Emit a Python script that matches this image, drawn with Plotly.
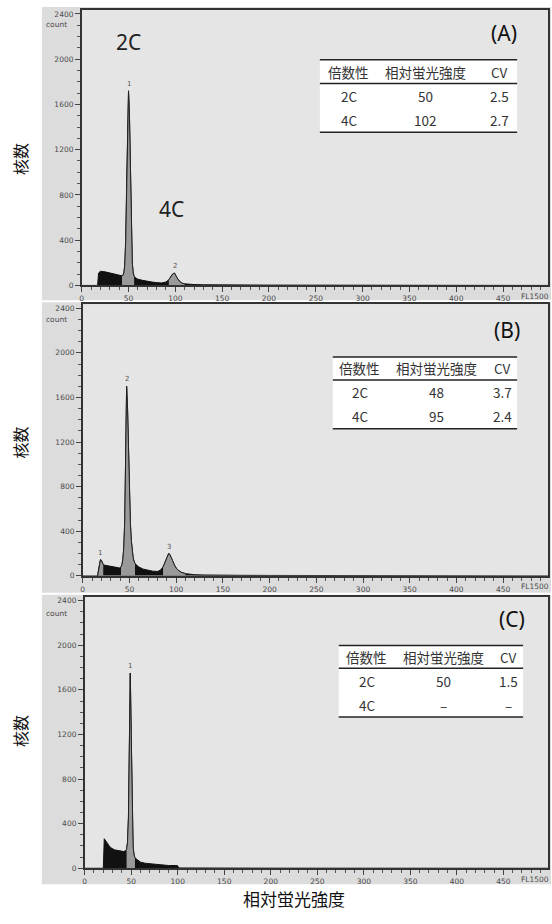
import plotly.graph_objects as go

W, H = 552, 924

# ---------------- data ----------------
A_x = [0, 17, 18, 20, 25, 30, 35, 40, 43, 44, 45, 46, 47, 48, 49, 50, 51, 52, 53, 54, 55, 56, 58, 60, 65, 70, 75, 80, 85, 90, 93, 95, 97, 99, 100, 101, 103, 105, 107, 110, 115, 120, 130, 140, 150, 200, 300, 400, 498]
A_y = [0, 0, 110, 125, 120, 110, 100, 90, 85, 90, 110, 180, 400, 900, 1450, 1720, 1500, 950, 450, 200, 110, 80, 65, 55, 45, 35, 30, 25, 22, 30, 50, 75, 100, 110, 100, 80, 50, 30, 20, 14, 10, 8, 6, 5, 4, 3, 2, 1, 0]
A_gates = [[43, 57], [92, 110]]
A_peaks = [[50, 1720, "1"], [100, 110, "2"]]

B_x = [0, 16, 17, 18, 19, 20, 21, 22, 24, 27, 30, 35, 38, 40, 41, 42, 43, 44, 45, 46, 47, 48, 49, 50, 51, 52, 53, 54, 55, 56, 58, 60, 65, 70, 75, 80, 83, 86, 88, 90, 92, 93, 94, 96, 98, 100, 103, 106, 110, 115, 120, 130, 140, 150, 170, 200, 250, 300, 350, 400, 450, 498]
B_y = [0, 0, 60, 120, 145, 140, 115, 100, 95, 90, 85, 75, 70, 70, 80, 100, 150, 260, 500, 950, 1700, 1500, 1100, 750, 480, 320, 220, 160, 130, 110, 95, 80, 60, 48, 42, 40, 50, 80, 120, 170, 200, 195, 180, 140, 100, 70, 45, 30, 20, 14, 10, 8, 6, 6, 5, 4, 3, 3, 2, 2, 1, 0]
B_gates = [[16, 22], [41, 57], [84, 110]]
B_peaks = [[19, 145, "1"], [47, 1700, "2"], [92, 200, "3"]]

C_x = [0, 20, 21, 22, 24, 26, 28, 32, 37, 42, 44, 45, 46, 47, 48, 49, 50, 51, 52, 53, 54, 56, 58, 60, 65, 70, 80, 90, 98, 100, 101, 110, 150, 200, 300, 400, 498]
C_y = [0, 0, 265, 250, 230, 205, 185, 165, 155, 150, 160, 170, 230, 450, 1100, 1750, 1200, 450, 200, 120, 95, 80, 70, 55, 45, 40, 30, 25, 25, 22, 3, 2, 2, 1, 1, 1, 0]
C_gates = [[45, 54]]
C_peaks = [[49, 1750, "1"]]

tables = {
    "A": {"header": ["倍数性", "相対蛍光強度", "CV"], "rows": [["2C", "50", "2.5"], ["4C", "102", "2.7"]]},
    "B": {"header": ["倍数性", "相対蛍光強度", "CV"], "rows": [["2C", "48", "3.7"], ["4C", "95", "2.4"]]},
    "C": {"header": ["倍数性", "相対蛍光強度", "CV"], "rows": [["2C", "50", "1.5"], ["4C", "–", "–"]]},
}

x_ticks = [0, 50, 100, 150, 200, 250, 300, 350, 400, 450]
y_ticks = [0, 400, 800, 1200, 1600, 2000, 2400]

# ---------------- layout geometry (pixels) ----------------
panels = [
    dict(key="A", x=A_x, y=A_y, gates=A_gates, peaks=A_peaks,
         plot=(80, 548, 10, 287), img=(40, 551, 7, 302),
         table=(319, 517, 60, 84, 133), cols=(348, 425, 499), tag=(504, 33), count_y=25, ttl_y=160),
    dict(key="B", x=B_x, y=B_y, gates=B_gates, peaks=B_peaks,
         plot=(81, 548, 306, 579), img=(40, 551, 304, 596),
         table=(332, 517, 359, 382, 431), cols=(359, 436, 502), tag=(507, 332), count_y=321, ttl_y=445),
    dict(key="C", x=C_x, y=C_y, gates=C_gates, peaks=C_peaks,
         plot=(83, 548, 600, 873), img=(40, 551, 598, 889),
         table=(338, 523, 649, 672, 721), cols=(366, 443, 508), tag=(512, 622), count_y=617, ttl_y=735),
]


def px(x):
    return x / W


def py(y):
    return 1 - y / H


def label(x, y, text, font, **kw):
    d = dict(x=px(x), y=py(y), xref="paper", yref="paper", text=text, showarrow=False,
             xanchor="center", yanchor="middle", font=font)
    d.update(kw)
    return d


fig = go.Figure()
shapes = []
annotations = []
layout_axes = {}

CJK = "Noto Sans CJK JP"
TICKF = dict(family="DejaVu Sans", size=7.5, color="#4a4a4a")
TABF = dict(family=CJK, size=13.5, color="#333")

for i, p in enumerate(panels, start=1):
    xa = "x" if i == 1 else f"x{i}"
    ya = "y" if i == 1 else f"y{i}"
    l, r, t, b = p["plot"]
    fig.add_trace(go.Scatter(x=p["x"], y=p["y"], mode="lines", fill="tozeroy",
                             fillcolor="#111111", line=dict(color="#111111", width=1),
                             xaxis=xa, yaxis=ya, showlegend=False, hoverinfo="skip"))
    for lo, hi in p["gates"]:
        gx = [xv for xv in p["x"] if lo <= xv <= hi]
        gy = [yv for xv, yv in zip(p["x"], p["y"]) if lo <= xv <= hi]
        fig.add_trace(go.Scatter(x=gx, y=gy, mode="lines", fill="tozeroy",
                                 fillcolor="#9a9a9a", line=dict(color="#222222", width=1),
                                 xaxis=xa, yaxis=ya, showlegend=False, hoverinfo="skip"))
    for xv, yv, lab in p["peaks"]:
        annotations.append(dict(x=xv, y=yv, xref=xa, yref=ya, text=lab, showarrow=False,
                                xanchor="center", yanchor="bottom", yshift=1,
                                font=dict(family="DejaVu Sans", size=7, color="#555")))

    axis_common = dict(showgrid=False, zeroline=False, showline=True, linecolor="#333333",
                       linewidth=1.5, mirror=True, ticks="outside", ticklen=5, tickwidth=1,
                       tickcolor="#444444", tickfont=TICKF)
    layout_axes["xaxis" if i == 1 else f"xaxis{i}"] = dict(
        axis_common, domain=[px(l), px(r)], range=[0, 498], anchor=ya,
        tickvals=x_ticks, ticktext=[str(v) for v in x_ticks],
        minor=dict(ticks="outside", ticklen=3, dtick=10, tickcolor="#555555"))
    layout_axes["yaxis" if i == 1 else f"yaxis{i}"] = dict(
        axis_common, domain=[py(b), py(t)], range=[0, 2435], anchor=xa,
        tickvals=y_ticks, ticktext=[str(v) for v in y_ticks],
        minor=dict(ticks="outside", ticklen=3, dtick=100, tickcolor="#555555"))

    il, ir, it, ib = p["img"]
    shapes.append(dict(type="rect", xref="paper", yref="paper", x0=px(il), x1=px(ir),
                       y0=py(ib), y1=py(it), fillcolor="#dcdcdc", line=dict(width=0), layer="below"))
    shapes.append(dict(type="rect", xref="paper", yref="paper", x0=px(l), x1=px(r),
                       y0=py(b), y1=py(t), fillcolor="#e5e5e5", line=dict(width=0), layer="below"))

    annotations.append(label(42, p["count_y"], "count", TICKF, xanchor="left"))
    annotations.append(label(551, b + 11, "FL1500", TICKF, xanchor="right"))
    annotations.append(label(18, p["ttl_y"], "核数", dict(family=CJK, size=16, color="#111"), textangle=-90))
    annotations.append(label(p["tag"][0], p["tag"][1], f"({p['key']})",
                             dict(family="Noto Sans", size=21, color="#111")))

    tl, tr, ttop, thdr, tbot = p["table"]
    shapes.append(dict(type="rect", xref="paper", yref="paper", x0=px(tl), x1=px(tr),
                       y0=py(tbot), y1=py(ttop), fillcolor="white", line=dict(width=0), layer="above"))
    for yy in (ttop, thdr, tbot):
        shapes.append(dict(type="line", xref="paper", yref="paper", x0=px(tl), x1=px(tr),
                           y0=py(yy), y1=py(yy), line=dict(color="#222", width=1.5), layer="above"))
    tab = tables[p["key"]]
    row_h = (tbot - thdr) / 2
    hdr_y = (ttop + thdr) / 2
    for cx, txt in zip(p["cols"], tab["header"]):
        annotations.append(label(cx, hdr_y, txt, TABF))
    for ri, row in enumerate(tab["rows"]):
        ry = thdr + row_h * (ri + 0.5)
        for cx, txt in zip(p["cols"], row):
            annotations.append(label(cx, ry, txt, TABF))

annotations.append(label(127, 42, "2C", dict(family="Noto Sans", size=21, color="#222")))
annotations.append(label(170, 210, "4C", dict(family="Noto Sans", size=21, color="#222")))
annotations.append(label(293, 903, "相対蛍光強度", dict(family=CJK, size=17, color="#111")))

fig.update_layout(width=W, height=H, margin=dict(l=0, r=0, t=0, b=0),
                  paper_bgcolor="white", plot_bgcolor="rgba(0,0,0,0)",
                  shapes=shapes, annotations=annotations, **layout_axes)

fig.write_html("out.html", config={"displayModeBar": False},
               post_script="document.body.style.margin='0px';document.body.style.overflow='hidden';")
